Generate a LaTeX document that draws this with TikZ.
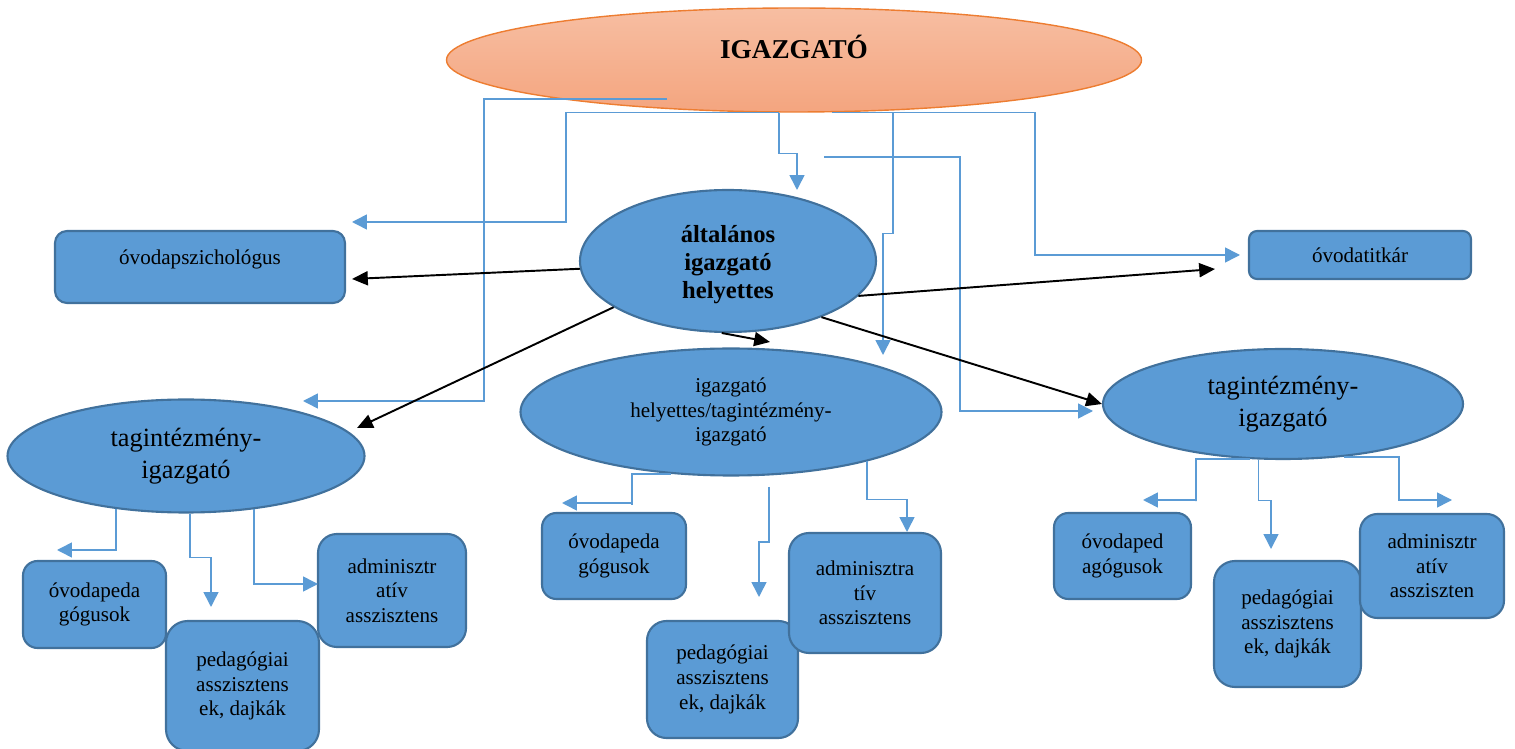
\documentclass[tikz,border=0pt]{standalone}
\usepackage{fontspec}
\setmainfont{Liberation Serif}
\usepackage{tikz}
\usetikzlibrary{shapes.geometric,arrows.meta}
\usepackage{xcolor}
\definecolor{nodeblue}{HTML}{5B9BD5}
\definecolor{edgeblue}{HTML}{41719C}
\definecolor{lineblue}{HTML}{5B9BD5}
\definecolor{headorange}{HTML}{ED7D31}
\definecolor{headtop}{HTML}{F7BEA2}
\definecolor{headbot}{HTML}{F4A57F}

\tikzset{
  ell/.style 2 args={ellipse, draw=edgeblue, fill=nodeblue, line width=1.2pt,
    minimum width=#1*0.02cm, minimum height=#2*0.02cm, inner sep=1pt, align=center},
  rbox/.style 2 args={rectangle, rounded corners={min(#1,#2)*0.02cm/6}, draw=edgeblue,
    fill=nodeblue, line width=1.2pt, minimum width=#1*0.02cm, minimum height=#2*0.02cm,
    inner sep=1pt, align=center, font=\fontsize{12}{14}\selectfont},
  bl/.style={lineblue, line width=0.9pt, -{Triangle[length=8.5pt,width=8.5pt]}},
  blk/.style={black, line width=1.1pt, -{Triangle[length=9pt,width=8pt]}},
}

\begin{document}
\begin{tikzpicture}[x=0.02cm, y=-0.02cm]
            \useasboundingbox (0,0) rectangle (1515,749);
            % top
            \node[ellipse, draw=headorange, top color=headtop, bottom color=headbot, line width=0.8pt,
              minimum width=695*0.02cm, minimum height=104*0.02cm, inner sep=1pt, text depth=15pt,
              font=\fontsize{15.5}{18}\bfseries\selectfont] (igazgato) at (794,60) {IGAZGATÓ};
            \node[ell={296}{142}, text height=46pt, font=\fontsize{14}{16}\bfseries\selectfont] (ah) at (728,261) {általános\\igazgató\\helyettes};
            \node[rbox={290}{72}, text depth=11pt] (pszich) at (200,267) {óvodapszichológus};
            \node[rbox={222}{48}] (titkar) at (1360,255) {óvodatitkár};
            % tagintezmenyek
            \node[ell={357}{113}, font=\fontsize{15}{18}\selectfont] (ltag) at (186,456) {tagintézmény-\\igazgató};
            \node[ell={421}{127}, font=\fontsize{12}{14}\selectfont] (mid) at (731,412) {igazgató\\helyettes/tagintézmény-\\igazgató};
            \node[ell={360}{110}, font=\fontsize{15}{18}\selectfont] (rtag) at (1283,404) {tagintézmény-\\igazgató};
            % left group
            \node[rbox={143}{87}] (lped) at (94.5,604.5) {óvodapeda\\gógusok};
            \node[rbox={153}{130}] (lasz) at (242.5,686) {pedagógiai\\asszisztens\\ek, dajkák};
            \node[rbox={148}{113}] (ladm) at (392,590.5) {adminisztr\\atív\\asszisztens};
            % middle group
            \node[rbox={144}{86}] (mped) at (614,556) {óvodapeda\\gógusok};
            \node[rbox={151}{117}] (masz) at (722.5,679.5) {pedagógiai\\asszisztens\\ek, dajkák};
            \node[rbox={152}{120}] (madm) at (865,593) {adminisztra\\tív\\asszisztens};
            % right group
            \node[rbox={137}{86}] (rped) at (1122.5,556) {óvodaped\\agógusok};
            \node[rbox={147}{126}] (rasz) at (1287.5,624) {pedagógiai\\asszisztens\\ek, dajkák};
            \node[rbox={144}{104}] (radm) at (1432,566) {adminisztr\\atív\\assziszten};
            % free ends
            \coordinate (igfree) at (667,99);
            \coordinate (igfree2) at (824,157);
            \coordinate (mfree) at (769,487);
            \coordinate (pszichin) at (352,222);
            \coordinate (ahin) at (797,190);
            \coordinate (titkarin) at (1240,255);
            \coordinate (midin) at (883,355);
            \coordinate (ltagin) at (303,401);
            \coordinate (rtagin) at (1093,411);
            \coordinate (pszichtip) at (352,279);
            \coordinate (ltagtip) at (357,428);
            \coordinate (midtip) at (770,342);
            \coordinate (titkartip) at (1215,269);
            \coordinate (lpedin) at (57,550);
            \coordinate (laszin) at (211,607);
            \coordinate (ladmin) at (318,584);
            \coordinate (mpedin) at (562,503);
            \coordinate (maszin) at (759,597);
            \coordinate (madmin) at (907,532);
            \coordinate (rpedin) at (1143,500);
            \coordinate (raszin) at (1271,549);
            \coordinate (radmin) at (1452,500);
            % blue lines from the top
            \draw[bl] (igazgato.254) -- ++(-213,0) |- (pszichin);
            \draw[bl] (igazgato.254) -- ++(0,41) -| (ahin);
            \draw[bl] (igazgato.306) -- ++(203,0) |- (titkarin);
            \draw[bl] (igazgato.306) -- ++(61,0) -- ++(0,121) -| (midin);
            \draw[bl] (igfree) -- ++(-183,0) |- (ltagin);
            \draw[bl] (igfree2) -- ++(136,0) |- (rtagin);
            % black arrows
            \draw[blk] (ah.183) -- (pszichtip);
            \draw[blk] (ah.202) -- (ltagtip);
            \draw[blk] (ah.265) -- (midtip);
            \draw[blk] (ah.345) -- (titkartip);
            \draw[blk] (ah.329) -- (rtag.west);
            % blue lines below
            \draw[bl] (ltag.217) |- (lpedin);
            \draw[bl] (ltag.274) -- ++(0,44) -| (laszin);
            \draw[bl] (ltag.322) |- (ladmin);
            \draw[bl] (mid.226) -| ++(-39,31) |- (mpedin);
            \draw[bl] (mfree) -- ++(0,55) -| (maszin);
            \draw[bl] (mid.340) -- ++(0,38) -| (madmin);
            \draw[bl] (rtag.239) -| ++(-54,42) |- (rpedin);
            \draw[bl] (rtag.246) -- ++(0,41) -| (raszin);
            \draw[bl] (rtag.319) -| ++(55,44) |- (radmin);
\end{tikzpicture}
\end{document}
